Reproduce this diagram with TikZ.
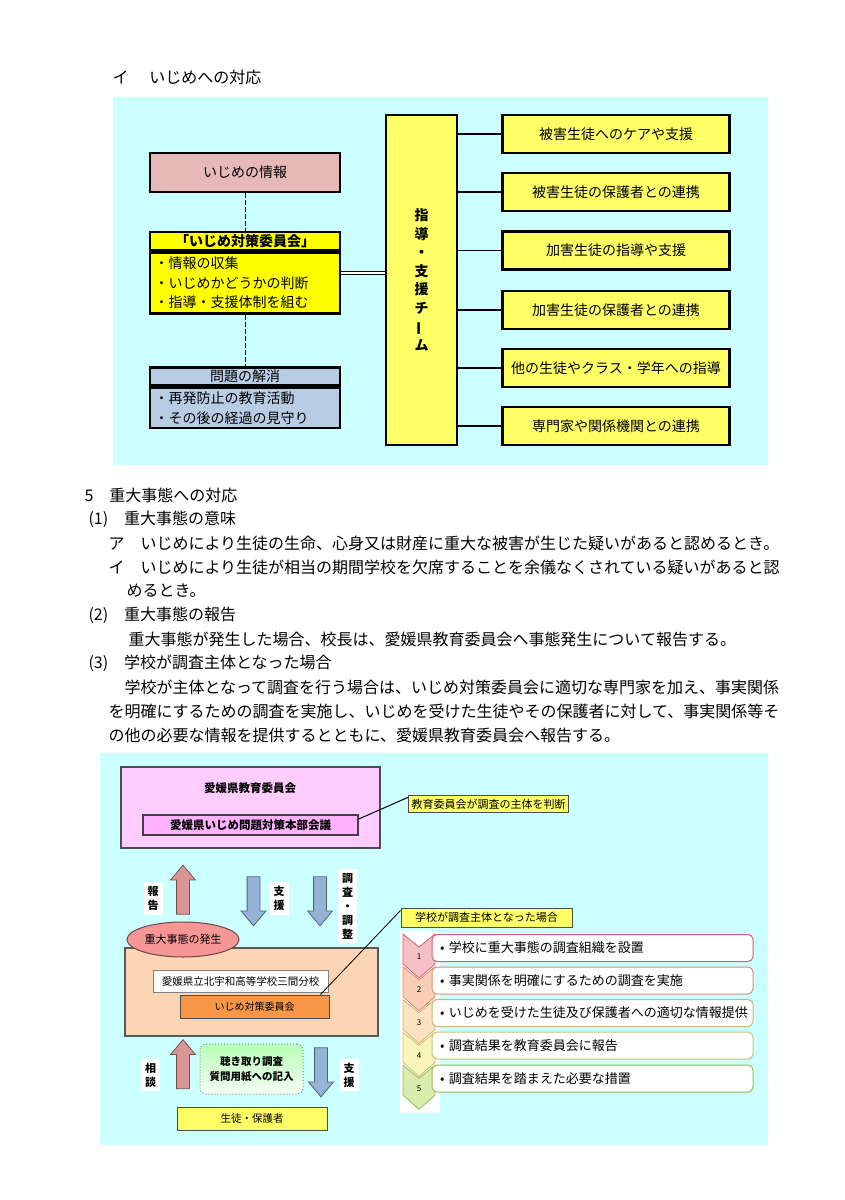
\documentclass[tikz,border=0pt]{standalone}
\usepackage{fontspec}
\usepackage{graphicx}
\setmainfont{Noto Sans CJK JP}
\usetikzlibrary{positioning,shapes.geometric,shapes.arrows}

\definecolor{skycyan}{RGB}{204,255,255}
\definecolor{infopink}{RGB}{230,184,183}
\definecolor{cmtyellow}{RGB}{255,255,0}
\definecolor{paleyellow}{RGB}{255,255,102}
\definecolor{solveblue}{RGB}{184,204,228}
\definecolor{edupink}{RGB}{255,204,255}
\definecolor{hqpink}{RGB}{255,178,255}
\definecolor{upred}{RGB}{217,150,148}
\definecolor{downblue}{RGB}{149,179,215}
\definecolor{crisispink}{RGB}{247,150,150}
\definecolor{schoolpeach}{RGB}{252,213,180}
\definecolor{cmtorange}{RGB}{247,150,70}
\definecolor{stpAf}{RGB}{244,192,198}\definecolor{stpAd}{RGB}{214,96,116}
\definecolor{stpBf}{RGB}{248,206,182}\definecolor{stpBd}{RGB}{212,146,112}
\definecolor{stpCf}{RGB}{252,226,192}\definecolor{stpCd}{RGB}{212,178,118}
\definecolor{stpDf}{RGB}{250,245,186}\definecolor{stpDd}{RGB}{200,196,110}
\definecolor{stpEf}{RGB}{216,236,172}\definecolor{stpEd}{RGB}{150,186,92}

\newcommand\fsz[2]{\fontsize{#1}{#2}\selectfont}

\begin{document}
\begin{tikzpicture}[
  x=1pt, y=-1pt, line width=1pt,
  bodytext/.style={anchor=west, inner sep=0pt, font=\fsz{16}{20}},
  infobox/.style={rectangle, draw, line width=2.5pt, fill=infopink, minimum width=190pt, minimum height=39pt, font=\fsz{14}{18}},
  cmthead/.style={rectangle, draw, line width=2.5pt, fill=cmtyellow, minimum width=190pt, minimum height=18pt, inner sep=0pt, font=\bfseries\fsz{14}{16}},
  cmtbody/.style={rectangle, draw, line width=2.5pt, fill=cmtyellow, text width=181pt, inner xsep=4.5pt, align=left, minimum height=61pt, font=\fsz{14}{19.5}},
  solvehead/.style={cmthead, fill=solveblue, font=\fsz{14}{16}},
  solvebody/.style={cmtbody, fill=solveblue, minimum height=40pt},
  teambox/.style={rectangle, draw, line width=2.5pt, fill=paleyellow, minimum width=71pt, minimum height=330pt, align=center, font=\bfseries\fsz{14}{18.6}},
  taskbox/.style={rectangle, draw, line width=2.5pt, fill=paleyellow, minimum width=227pt, minimum height=38pt, font=\fsz{14}{16}},
  link/.style={line width=1.5pt},
  dashlink/.style={line width=1pt, dash pattern=on 5pt off 2pt},
  dbl/.style={double, double distance=2pt, line width=1pt},
  edubox/.style={rectangle, draw=black!70, line width=1.2pt, fill=edupink, minimum width=259pt, minimum height=81pt},
  hqbox/.style={rectangle, draw=black!75, line width=1.5pt, fill=hqpink, minimum width=215pt, minimum height=20pt, inner sep=0pt, font=\bfseries\fsz{11.5}{13}},
  notebox/.style={rectangle, draw=black!70, line width=1pt, fill=paleyellow, inner sep=3pt, font=\fsz{11}{13}},
  uparr/.style={single arrow, shape border rotate=90, draw=upred!55!black, fill=upred, line width=0.8pt, minimum height=49pt, minimum width=24pt, inner sep=6pt, single arrow head extend=6pt, single arrow tip angle=80},
  downarr/.style={uparr, shape border rotate=270, draw=downblue!55!black, fill=downblue},
  vlabel/.style={fill=white, inner sep=4pt, align=center, font=\bfseries\fsz{11}{14}},
  crisis/.style={ellipse, draw=crisispink!45!black, fill=crisispink, line width=1pt, minimum width=112pt, minimum height=35pt, inner sep=0pt, font=\fsz{11}{13}},
  schoolbox/.style={rectangle, draw=black!65, fill=schoolpeach, line width=1.5pt, minimum width=253pt, minimum height=88pt},
  namebox/.style={rectangle, draw=black!50, fill=white, minimum width=175pt, minimum height=22pt, inner sep=0pt, font=\fsz{10.5}{12}},
  bcmtbox/.style={rectangle, draw=black!70, fill=cmtorange, minimum width=149pt, minimum height=23pt, inner sep=0pt, font=\fsz{10}{12}},
  hearbox/.style={rectangle, rounded corners=6pt, draw=black!45, dotted, top color=green!28!white, bottom color=green!4!white, minimum width=103pt, minimum height=50pt, align=center, font=\bfseries\fsz{10.5}{15}},
  pupilbox/.style={rectangle, draw=black!70, fill=paleyellow, minimum width=150pt, minimum height=23pt, inner sep=0pt, font=\fsz{10.5}{12}},
  stepbox/.style={rectangle, rounded corners=5pt, fill=white, line width=1pt, minimum width=321pt, minimum height=27pt, text width=305pt, inner xsep=8pt, align=left, font=\fsz{13}{15}}
]
\useasboundingbox (0,0) rectangle (844,1200);

% heading of the first chart
\node (hdbully) [bodytext] at (112,77) {イ　\hspace{5pt}いじめへの対応};

% first chart
\fill[skycyan] (113,97) rectangle (768,465);

\node (info) [infobox] at (245,172.5) {いじめの情報};
\node (cmthd) [cmthead] at (245,241) {「いじめ対策委員会」};
\node (cmtbd) [cmtbody, below=0pt of cmthd] {・情報の収集\\・いじめかどうかの判断\\・指導・支援体制を組む};
\node (solvehd) [solvehead] at (245,376.5) {問題の解消};
\node (solvebd) [solvebody, below=0pt of solvehd] {・再発防止の教育活動\\・その後の経過の見守り};

\node (team) [teambox] at (421.5,280) {指\\導\\・\\支\\援\\チ\\\rotatebox[origin=c]{90}{ー}\\ム};

\node (task1) [taskbox] at (616,134) {被害生徒へのケアや支援};
\node (task2) [taskbox] at (616,192) {被害生徒の保護者との連携};
\node (task3) [taskbox] at (616,250.5) {加害生徒の指導や支援};
\node (task4) [taskbox] at (616,310) {加害生徒の保護者との連携};
\node (task5) [taskbox] at (616,368) {他の生徒やクラス・学年への指導};
\node (task6) [taskbox] at (616,426) {専門家や関係機関との連携};

\draw [dashlink] (info) -- (cmthd);
\draw [dashlink] (cmtbd) -- (solvehd);
\draw [dbl] ([yshift=10pt]cmtbd.east) -- ([yshift=10pt]cmtbd.east -| team.west);
\draw [link] (team.east |- task1) -- (task1);
\draw [link] (team.east |- task2) -- (task2);
\draw [link] (team.east |- task3) -- (task3);
\draw [link] (team.east |- task4) -- (task4);
\draw [link] (team.east |- task5) -- (task5);
\draw [link] (team.east |- task6) -- (task6);

% section text
\node (hdcrisis) [bodytext] at (84,495) {5　重大事態への対応};
\node (hdmean) [bodytext] at (88,519) {(1)　重大事態の意味};
\node (lineA) [bodytext] at (108,543) {ア　いじめにより生徒の生命、心身又は財産に重大な被害が生じた疑いがあると認めるとき。};
\node (lineB) [bodytext] at (108,567) {イ　いじめにより生徒が相当の期間学校を欠席することを余儀なくされている疑いがあると認};
\node (lineBb) [bodytext] at (126,591) {めるとき。};
\node (hdreport) [bodytext] at (88,615) {(2)　重大事態の報告};
\node (linerep) [bodytext] at (128,639) {重大事態が発生した場合、校長は、愛媛県教育委員会へ事態発生について報告する。};
\node (hdschool) [bodytext] at (88,663) {(3)　学校が調査主体となった場合};
\node (lineC) [bodytext] at (124,687) {学校が主体となって調査を行う場合は、いじめ対策委員会に適切な専門家を加え、事実関係};
\node (lineCb) [bodytext] at (108,711) {を明確にするための調査を実施し、いじめを受けた生徒やその保護者に対して、事実関係等そ};
\node (lineCc) [bodytext] at (108,735) {の他の必要な情報を提供するとともに、愛媛県教育委員会へ報告する。};

% second chart
\fill[skycyan] (100,753) rectangle (768,1145);

\node (edu) [edubox] at (250.5,807.5) {};
\node (edutitle) [font=\bfseries\fsz{11.5}{13}] at (250,788) {愛媛県教育委員会};
\node (hq) [hqbox] at (250.5,825) {愛媛県いじめ問題対策本部会議};
\node (judge) [notebox] at (488.5,804) {教育委員会が調査の主体を判断};
\draw [line width=1pt] ([yshift=6pt]hq.east) -- ([yshift=-2pt]judge.north west);

\node (report) [uparr] at (183,893.5) {};
\node (lbreport) [vlabel] at (153,898.5) {報\\告};
\node (support) [downarr] at (253.5,897.5) {};
\node (lbsupport) [vlabel] at (279,898.5) {支\\援};
\node (survey) [downarr] at (320,897.5) {};
\node (lbsurvey) [vlabel] at (347.5,906) {調\\査\\・\\調\\整};

\node (school) [schoolbox] at (251.5,992) {};
\node (crisis) [crisis] at (183,939.5) {重大事態の発生};
\node (bunko) [namebox] at (240.5,981) {愛媛県立北宇和高等学校三間分校};
\node (bcmt) [bcmtbox] at (254.5,1006.5) {いじめ対策委員会};

\node (consult) [uparr] at (183,1068) {};
\node (lbconsult) [vlabel] at (150.5,1075) {相\\談};
\node (hearing) [hearbox] at (251.5,1069) {聴き取り調査\\質問用紙への記入};
\node (support2) [downarr] at (321,1068.5) {};
\node (lbsupport2) [vlabel] at (349,1075) {支\\援};
\node (pupils) [pupilbox] at (252,1118.5) {生徒・保護者};

% school as investigator
\node (schoolcase) [notebox, minimum width=171pt, minimum height=19pt] at (486.5,917.5) {学校が調査主体となった場合};
\draw [line width=0.8pt] ([xshift=-9pt]bcmt.north east) -- ([yshift=-3pt]schoolcase.north west);

\fill[white] (400,931) rectangle (440,1113);
\foreach \i/\cf/\cd in {1/stpAf/stpAd, 2/stpBf/stpBd, 3/stpCf/stpCd, 4/stpDf/stpDd, 5/stpEf/stpEd} {
  \pgfmathsetmacro\ty{934+32.8*(\i-1)}
  \filldraw [fill=\cf, draw=\cd, line width=0.8pt] (403,\ty) -- (419,\ty+13) -- (435,\ty) -- (435,\ty+30) -- (419,\ty+44) -- (403,\ty+30) -- cycle;
  \node (num\i) [font=\fsz{8}{9}] at (419,\ty+23) {\i};
}

\node (step1) [stepbox, draw=stpAd] at (592.5,948) {•\ 学校に重大事態の調査組織を設置};
\node (step2) [stepbox, draw=stpBd] at (592.5,980.5) {•\ 事実関係を明確にするための調査を実施};
\node (step3) [stepbox, draw=stpCd] at (592.5,1013) {•\ いじめを受けた生徒及び保護者への適切な情報提供};
\node (step4) [stepbox, draw=stpDd] at (592.5,1045.5) {•\ 調査結果を教育委員会に報告};
\node (step5) [stepbox, draw=stpEd] at (592.5,1078.5) {•\ 調査結果を踏まえた必要な措置};

\end{tikzpicture}
\end{document}
